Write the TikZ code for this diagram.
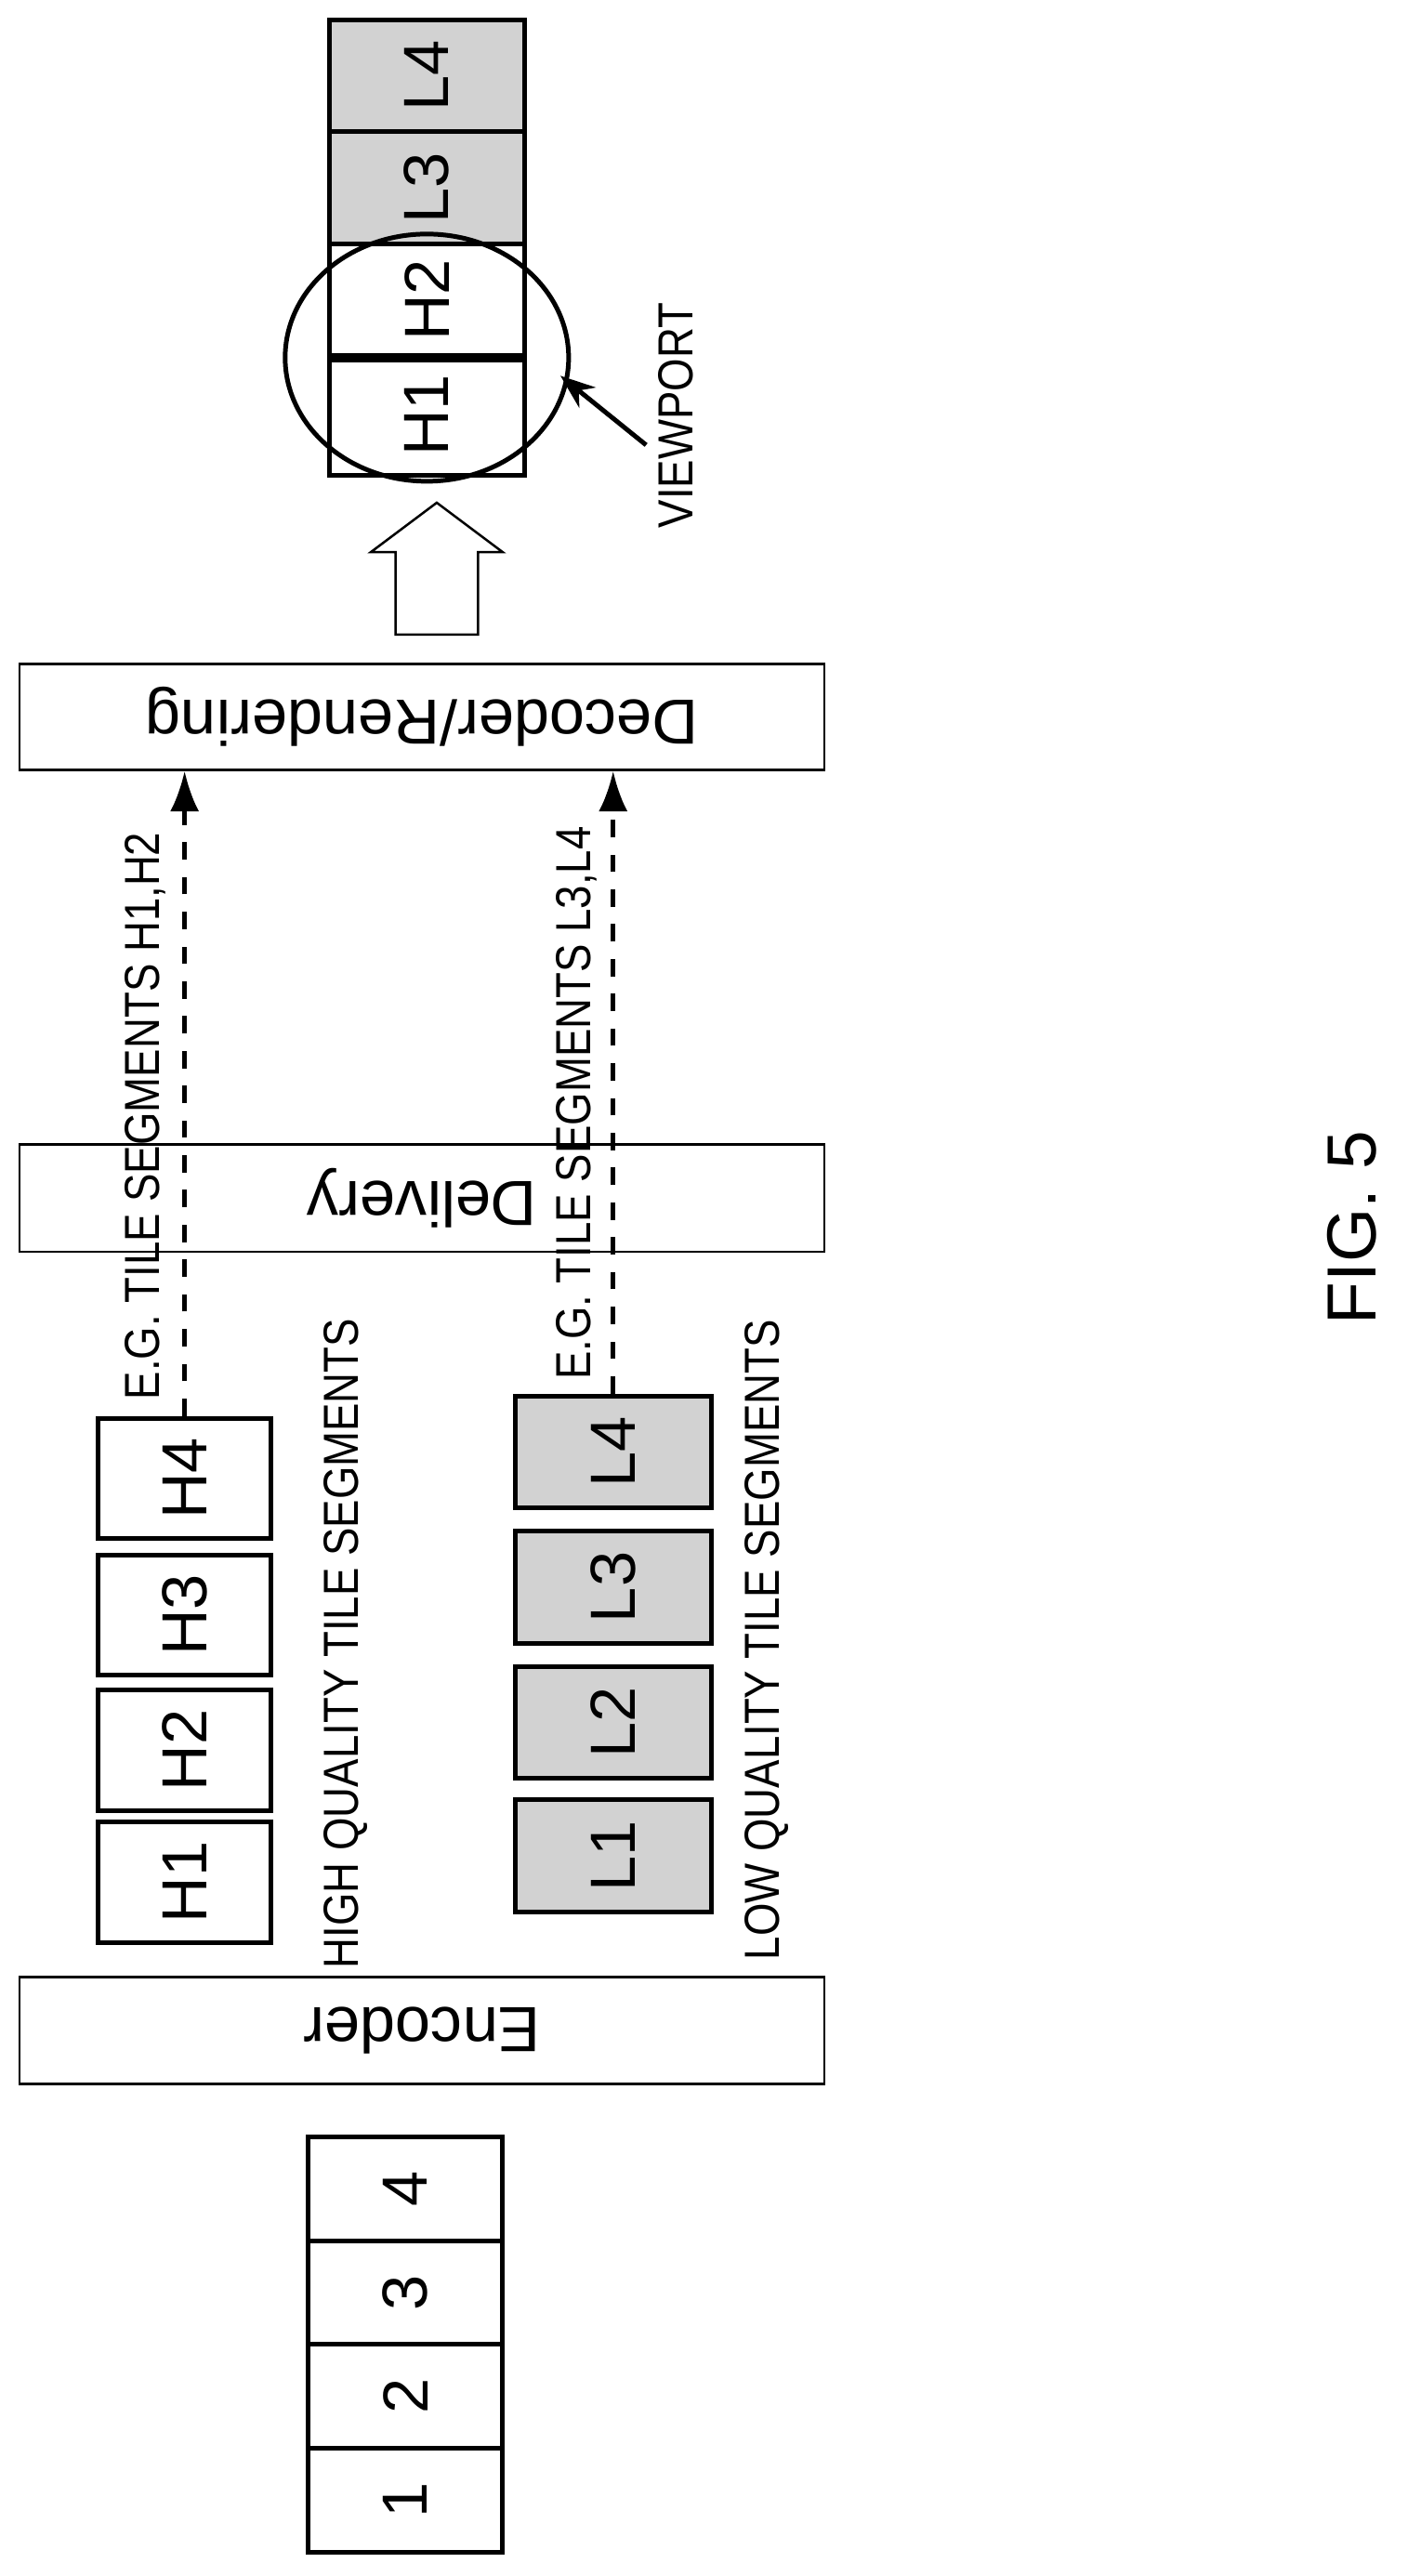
\documentclass[tikz,border=0pt]{standalone}
\usepackage{fontspec}
\setmainfont{Liberation Sans}
\usetikzlibrary{positioning,arrows.meta}

\begin{document}
\begin{tikzpicture}[
    x=0.01cm, y=-0.01cm,
    box/.style={rectangle, draw, thin, font=\fontsize{11}{13}\selectfont},
    tile/.style={rectangle, draw, thick, font=\fontsize{11}{13}\selectfont},
    low/.style={tile, fill=gray!35},
    lbl/.style={rotate=90, font=\fontsize{8.5}{10}\selectfont, inner sep=0pt},
    arrow/.style={-{Latex[length=7pt,width=5pt]}, thick, dashed}
]
    \useasboundingbox (0,0) rectangle (862,1563);

    % input tiles
    \foreach \n/\y in {1/1517,2/1454,3/1391,4/1328}
        \node[tile, minimum width=1.18cm, minimum height=0.63cm] (in\n) at (246,\y) {\rotatebox{90}{\n}};

    % processing boxes
    \node[box, minimum width=4.88cm, minimum height=0.65cm] (encoder) at (256,1232) {\rotatebox{180}{Encoder}};
    \node[box, minimum width=4.88cm, minimum height=0.65cm] (delivery) at (256,727) {\rotatebox{180}{Delivery}};
    \node[box, minimum width=4.88cm, minimum height=0.64cm] (decoder) at (256,435) {\rotatebox{180}{Decoder/Rendering}};

    % high quality tiles
    \foreach \n/\y in {1/1142,2/1062,3/980,4/897}
        \node[tile, minimum width=1.05cm, minimum height=0.70cm] (h\n) at (112,\y) {\rotatebox{90}{H\n}};
    % low quality tiles
    \foreach \n/\y in {1/1126,2/1045,3/963,4/881}
        \node[low, minimum width=1.19cm, minimum height=0.68cm] (l\n) at (372,\y) {\rotatebox{90}{L\n}};

    \node[lbl, anchor=west] (hq) at (210,1195) {\scalebox{0.86}[1]{HIGH QUALITY TILE SEGMENTS}};
    \node[lbl, anchor=west] (lq) at (465,1190) {\scalebox{0.86}[1]{LOW QUALITY TILE SEGMENTS}};

    % requested segments
    \coordinate (hend) at (h4.north |- decoder.south);
    \coordinate (lend) at (l4.north |- decoder.south);
    \draw[arrow] (h4.north) -- (hend);
    \draw[arrow] (l4.north) -- (lend);
    \node[lbl, anchor=west] (hlab) at (88,850) {\scalebox{0.86}[1]{E.G. TILE SEGMENTS H1,H2}};
    \node[lbl, anchor=west] (llab) at (350,838) {\scalebox{0.86}[1]{E.G. TILE SEGMENTS L3,L4}};

    % output
    \draw[thin] (240,385) -- (290,385) -- (290,335) -- (305,335) -- (265,305)
        -- (225,335) -- (240,335) -- cycle;

    \node[tile, minimum width=1.18cm, minimum height=0.73cm] (o1) at (259,252) {\rotatebox{90}{H1}};
    \node[tile, minimum width=1.18cm, minimum height=0.67cm] (o2) at (259,182) {\rotatebox{90}{H2}};
    \node[low, minimum width=1.18cm, minimum height=0.68cm] (o3) at (259,114) {\rotatebox{90}{L3}};
    \node[low, minimum width=1.18cm, minimum height=0.68cm] (o4) at (259,46) {\rotatebox{90}{L4}};

    \draw[thick] (259,217) ellipse [x radius=86, y radius=75];
    \node[lbl] (vp) at (410,252) {\scalebox{0.86}[1]{VIEWPORT}};
    \coordinate (vptip) at (340,228);
    \draw[-{Stealth[length=6pt]}, thick] (392,270) -- (vptip);

    \node[rotate=90, font=\fontsize{12}{14}\selectfont] (fig) at (820,745) {FIG. 5};
\end{tikzpicture}
\end{document}
